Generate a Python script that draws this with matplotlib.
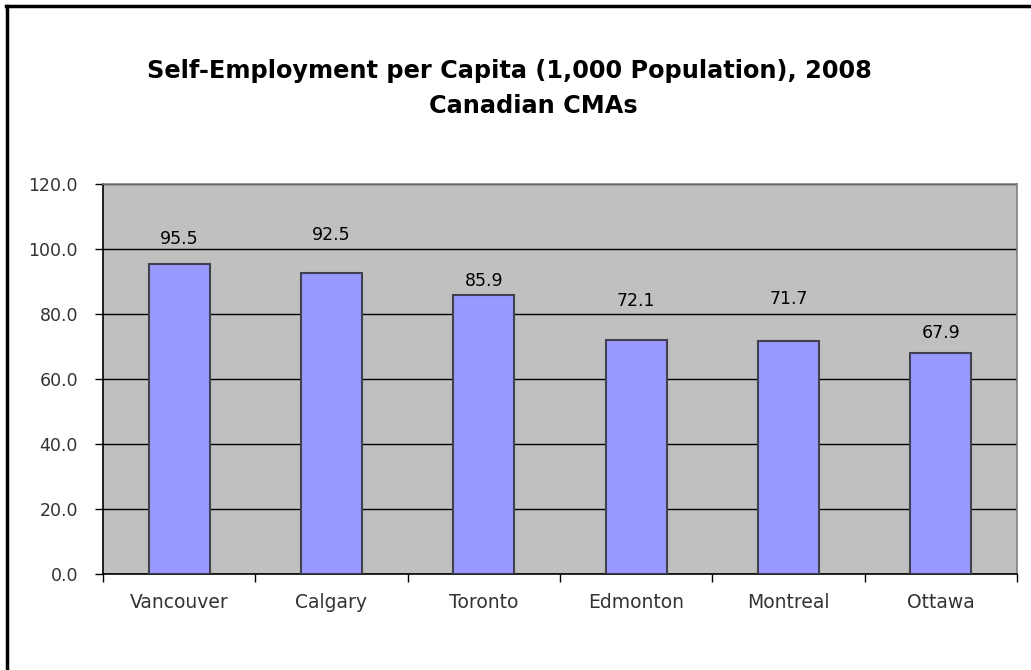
import matplotlib
matplotlib.use("Agg")
import matplotlib.pyplot as plt
from matplotlib.lines import Line2D
import numpy as np

categories = ["Vancouver", "Calgary", "Toronto", "Edmonton", "Montreal", "Ottawa"]
values = [95.5, 92.5, 85.9, 72.1, 71.7, 67.9]
value_labels = ["95.5", "92.5", "85.9", "72.1", "71.7", "67.9"]
label_pos = [100.3, 101.5, 87.4, 81.2, 81.8, 71.4]
yticks = [0, 20, 40, 60, 80, 100, 120]
ytick_labels = ["0.0", "20.0", "40.0", "60.0", "80.0", "100.0", "120.0"]
title1 = "Self-Employment per Capita (1,000 Population), 2008"
title2 = "Canadian CMAs"

plt.rcParams['font.family'] = ['DejaVu Sans']

W, H = 1031, 670
fig = plt.figure(figsize=(W / 100, H / 100), dpi=100)
fig.patch.set_facecolor("white")

ax = fig.add_axes([103 / W, 1 - 574 / H, (1017 - 103) / W, (574 - 184) / H])
ax.set_facecolor("#C0C0C0")

x = np.arange(len(categories))
ax.set_axisbelow(True)
ax.yaxis.grid(True, color="black", linewidth=1.0)
ax.bar(x, values, width=0.4, color="#9999FF", edgecolor="#404050", linewidth=1.5, zorder=3)

for xi, lab, yp in zip(x, value_labels, label_pos):
    ax.text(xi, yp, lab, ha="center", va="bottom", fontsize=12.5, color="black", zorder=4)

ax.set_xlim(-0.5, len(categories) - 0.5)
ax.set_ylim(0, 120)
ax.set_yticks(yticks)
ax.set_yticklabels(ytick_labels, fontsize=12.5, color="#333333")
ax.tick_params(axis="y", length=6, width=1, direction="out", pad=12, color="black")

ax.set_xticks(x)
ax.set_xticklabels(categories, fontsize=13.5, color="#333333")
ax.set_xticks(np.arange(len(categories) + 1) - 0.5, minor=True)
ax.tick_params(axis="x", which="major", length=0, pad=14)
ax.tick_params(axis="x", which="minor", length=6, width=1, direction="out", color="black")

for s in ["left", "bottom"]:
    ax.spines[s].set_color("black")
    ax.spines[s].set_linewidth(1.2)
for s in ["top", "right"]:
    ax.spines[s].set_color("#808080")
    ax.spines[s].set_linewidth(1.2)

fig.text(509 / W, 1 - 71 / H, title1, ha="center", va="center", fontsize=17.3, fontweight="bold")
fig.text(533 / W, 1 - 106 / H, title2, ha="center", va="center", fontsize=17.3, fontweight="bold")

# outer chart border (top and left visible)
fig.add_artist(Line2D([7 / W, 7 / W], [0, 1 - 6 / H], transform=fig.transFigure, color="black", linewidth=2.5))
fig.add_artist(Line2D([6 / W, 1], [1 - 6 / H, 1 - 6 / H], transform=fig.transFigure, color="black", linewidth=2.5))

fig.savefig("out.png", dpi=100)
